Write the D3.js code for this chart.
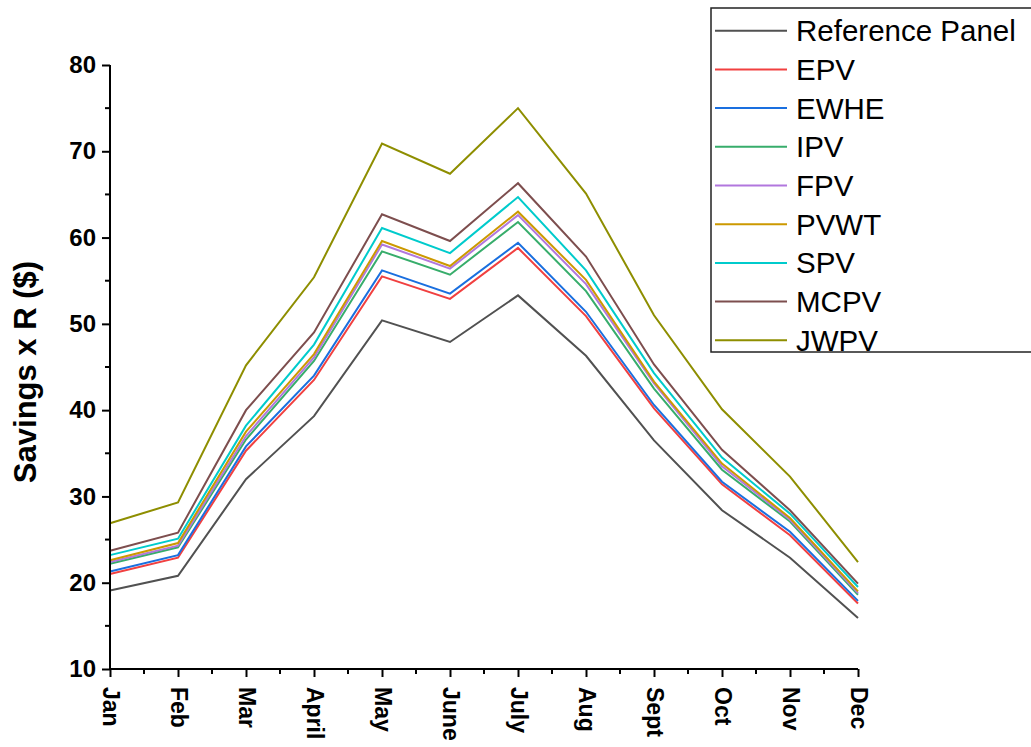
<!DOCTYPE html>
<html><head><meta charset="utf-8">
<script src="https://cdn.jsdelivr.net/npm/d3@7"></script>
<style>
html,body{margin:0;padding:0;background:#fff;}
svg{display:block;font-family:Arial,"Liberation Sans",sans-serif;}
</style></head>
<body>
<svg id="chart" width="1031" height="747"></svg>
<script>
const months = ["Jan","Feb","Mar","April","May","June","July","Aug","Sept","Oct","Nov","Dec"];
const seriesNames = ["Reference Panel","EPV","EWHE","IPV","FPV","PVWT","SPV","MCPV","JWPV"];
const seriesColors = ["#515151","#F14040","#1A6FDF","#37AD6B","#B177DE","#CC9900","#00CBCC","#7D4E4E","#8E8E00"];
const refPanel = [19.1,20.8,32.0,39.3,50.4,47.9,53.3,46.3,36.5,28.4,22.9,15.9];
const epv      = [21.0,22.9,35.3,43.5,55.5,52.9,58.8,50.9,40.2,31.4,25.5,17.6];
const ewhe     = [21.3,23.2,35.8,44.0,56.2,53.5,59.4,51.4,40.6,31.7,25.9,17.9];
const ipv      = [22.2,24.1,36.6,45.7,58.4,55.7,61.8,53.8,42.5,33.1,27.1,18.6];
const fpv      = [22.4,24.3,37.0,46.1,59.2,56.4,62.6,54.6,43.1,33.5,27.3,18.8];
const pvwt     = [22.6,24.6,37.5,46.5,59.6,56.7,63.0,55.1,43.3,33.8,27.5,19.0];
const spv      = [23.2,25.1,38.2,47.6,61.1,58.2,64.7,56.2,44.3,34.5,28.0,19.5];
const mcpv     = [23.7,25.8,40.0,49.0,62.7,59.6,66.3,57.8,45.3,35.4,28.4,19.9];
const jwpv     = [26.9,29.3,45.2,55.4,70.9,67.4,75.0,65.1,51.0,40.1,32.3,22.4];
const seriesValues = [refPanel,epv,ewhe,ipv,fpv,pvwt,spv,mcpv,jwpv];
const yTicks = [10,20,30,40,50,60,70,80];

const svg = d3.select("#chart");
const pLeft = 110, pRight = 858, pTop = 65, pBottom = 669;
const x = d3.scalePoint().domain(months).range([pLeft, pRight]);
const y = d3.scaleLinear().domain([10, 80]).range([pBottom, pTop]);

// lines
const line = d3.line().x((d,i)=>x(months[i])).y(d=>y(d));
seriesValues.forEach((vals, k) => {
  svg.append("path").datum(vals)
    .attr("d", line).attr("fill","none")
    .attr("stroke", seriesColors[k]).attr("stroke-width", 2)
    .attr("stroke-linejoin","miter");
});

// y axis
const yAxis = svg.append("g").attr("transform", `translate(${pLeft},0)`)
  .call(d3.axisLeft(y).tickValues(yTicks).tickSize(8).tickPadding(6).tickFormat(d3.format("d")));
yAxis.select(".domain").attr("stroke","#000").attr("stroke-width",2).attr("d",`M0,${pBottom}V${pTop}`);
yAxis.selectAll(".tick line").attr("stroke","#000").attr("stroke-width",2);
yAxis.selectAll(".tick text").attr("font-size",24).attr("font-weight","bold").attr("fill","#000");
// minor y ticks
const yMinor = d3.range(15, 80, 10);
svg.append("g").selectAll("line").data(yMinor).join("line")
  .attr("x1", pLeft-5).attr("x2", pLeft).attr("y1", d=>y(d)).attr("y2", d=>y(d))
  .attr("stroke","#000").attr("stroke-width",2);

// x axis
const xAxis = svg.append("g").attr("transform", `translate(0,${pBottom})`)
  .call(d3.axisBottom(x).tickSize(8).tickPadding(0));
xAxis.select(".domain").attr("stroke","#000").attr("stroke-width",2).attr("d",`M${pLeft},0H${pRight}`);
xAxis.selectAll(".tick line").attr("stroke","#000").attr("stroke-width",2);
xAxis.selectAll(".tick text")
  .attr("font-size",23).attr("font-weight","bold").attr("fill","#000")
  .attr("text-anchor","start").attr("dy","0")
  .attr("transform","translate(0,18) rotate(90)")
  .attr("x",0).attr("y",0).attr("dominant-baseline","central");
// minor x ticks
const step = x.step();
svg.append("g").selectAll("line").data(months.slice(0,-1)).join("line")
  .attr("x1", d=>x(d)+step/2).attr("x2", d=>x(d)+step/2)
  .attr("y1", pBottom).attr("y2", pBottom+5)
  .attr("stroke","#000").attr("stroke-width",2);

// y title
svg.append("text").attr("transform","translate(36,372) rotate(-90)")
  .attr("text-anchor","middle").attr("font-size",31).attr("font-weight","bold")
  .attr("fill","#000").text("Savings x R ($)");

// legend
const lg = svg.append("g");
lg.append("rect").attr("x",711).attr("y",8).attr("width",340).attr("height",344)
  .attr("fill","#fff").attr("stroke","#222").attr("stroke-width",1.5);
seriesNames.forEach((name,k)=>{
  const cy = 30.7 + k*38.7;
  lg.append("line").attr("x1",715).attr("x2",787).attr("y1",cy).attr("y2",cy)
    .attr("stroke",seriesColors[k]).attr("stroke-width",2);
  lg.append("text").attr("x",796).attr("y",cy).attr("dominant-baseline","central")
    .attr("font-size",29.5).attr("fill","#000").text(name);
});
</script>
</body></html>
